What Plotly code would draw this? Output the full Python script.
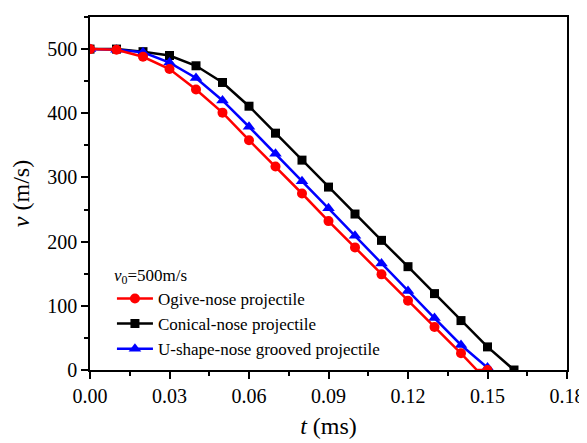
import plotly.graph_objects as go

# Ogive-nose projectile (red)
ogive_t = [0.00, 0.01, 0.02, 0.03, 0.04, 0.05, 0.06, 0.07, 0.08, 0.09, 0.10,
           0.11, 0.12, 0.13, 0.14, 0.15]
ogive_v = [500, 499, 488, 469, 437, 401, 358, 317, 275, 232, 191,
           149, 108, 67, 26, 0]
ogive_line_t = [0.00, 0.01, 0.02, 0.03, 0.04, 0.05, 0.06, 0.07, 0.08, 0.09, 0.10,
                0.11, 0.12, 0.13, 0.14, 0.146, 0.15]
ogive_line_v = [500, 499, 488, 469, 437, 401, 358, 317, 275, 232, 191,
                149, 108, 67, 26, 0, 0]

# Conical-nose projectile (black)
conical_t = [0.00, 0.01, 0.02, 0.03, 0.04, 0.05, 0.06, 0.07, 0.08, 0.09, 0.10,
             0.11, 0.12, 0.13, 0.14, 0.15, 0.16]
conical_v = [500, 500, 496, 490, 474, 448, 411, 369, 327, 285, 243,
             202, 161, 119, 77, 36, 0]

# U-shape-nose grooved projectile (blue)
ushape_t = [0.00, 0.01, 0.02, 0.03, 0.04, 0.05, 0.06, 0.07, 0.08, 0.09, 0.10,
            0.11, 0.12, 0.13, 0.14, 0.15]
ushape_v = [500, 499, 495, 479, 455, 420, 379, 337, 294, 252, 209,
            166, 123, 81, 39, 4]
ushape_line_t = ushape_t + [0.151]
ushape_line_v = ushape_v + [0]

x_ticks = [0.00, 0.03, 0.06, 0.09, 0.12, 0.15, 0.18]
y_ticks = [0, 100, 200, 300, 400, 500]

FONT = "'Liberation Serif', 'Times New Roman', serif"

fig = go.Figure()

series = [
    ("Ogive-nose projectile", "#FF0000", "circle", 10, ogive_line_t, ogive_line_v, ogive_t, ogive_v),
    ("Conical-nose projectile", "#000000", "square", 9, conical_t, conical_v, conical_t, conical_v),
    ("U-shape-nose grooved projectile", "#0000FF", "triangle-up", 11, ushape_line_t, ushape_line_v, ushape_t, ushape_v),
]

# draw order: black, blue, red on top
for idx in [1, 2, 0]:
    name, color, sym, size, lt, lv, mt, mv = series[idx]
    fig.add_trace(go.Scatter(x=lt, y=lv, mode="lines", line=dict(color=color, width=2.5),
                             showlegend=False, hoverinfo="skip"))
    fig.add_trace(go.Scatter(x=mt, y=mv, mode="markers",
                             marker=dict(color=color, symbol=sym, size=size, line=dict(width=0)),
                             showlegend=False))

for name, color, sym, size, lt, lv, mt, mv in series:
    fig.add_trace(go.Scatter(x=[None], y=[None], mode="lines+markers", name=name,
                             line=dict(color=color, width=2.5),
                             marker=dict(color=color, symbol=sym, size=size, line=dict(width=0))))

fig.update_layout(
    width=587, height=443,
    margin=dict(l=82, r=28, t=7, b=81),
    paper_bgcolor="white", plot_bgcolor="white",
    font=dict(family=FONT, color="black", size=18),
    legend=dict(
        x=0.046, y=0.315, xanchor="left", yanchor="top",
        bgcolor="rgba(0,0,0,0)", borderwidth=0,
        font=dict(family=FONT, size=17, color="black"),
        title=dict(text="<i>v</i><sub>0</sub>=500m/s", font=dict(family=FONT, size=17)),
        tracegroupgap=0, itemwidth=36,
    ),
    xaxis=dict(
        range=[0, 0.18], tickvals=x_ticks, ticktext=[f"{v:.2f}" for v in x_ticks],
        showgrid=False, zeroline=False,
        showline=True, linecolor="black", linewidth=1.5, mirror=True,
        ticks="outside", ticklen=7, tickwidth=1.5, tickcolor="black",
        minor=dict(ticks="outside", ticklen=4, tickwidth=1.5, tickcolor="black", dtick=0.015, tick0=0),
        tickfont=dict(family=FONT, size=20),
        title=dict(text="<i>t</i> (ms)", font=dict(family=FONT, size=24), standoff=11),
    ),
    yaxis=dict(
        range=[0, 550], tickvals=y_ticks,
        showgrid=False, zeroline=False,
        showline=True, linecolor="black", linewidth=1.5, mirror=True,
        ticks="outside", ticklen=7, tickwidth=1.5, tickcolor="black",
        minor=dict(ticks="outside", ticklen=4, tickwidth=1.5, tickcolor="black", dtick=50, tick0=0),
        tickfont=dict(family=FONT, size=20),
        title=dict(text="<i>v</i> (m/s)", font=dict(family=FONT, size=24), standoff=14),
    ),
)

fig.write_html("out.html")
